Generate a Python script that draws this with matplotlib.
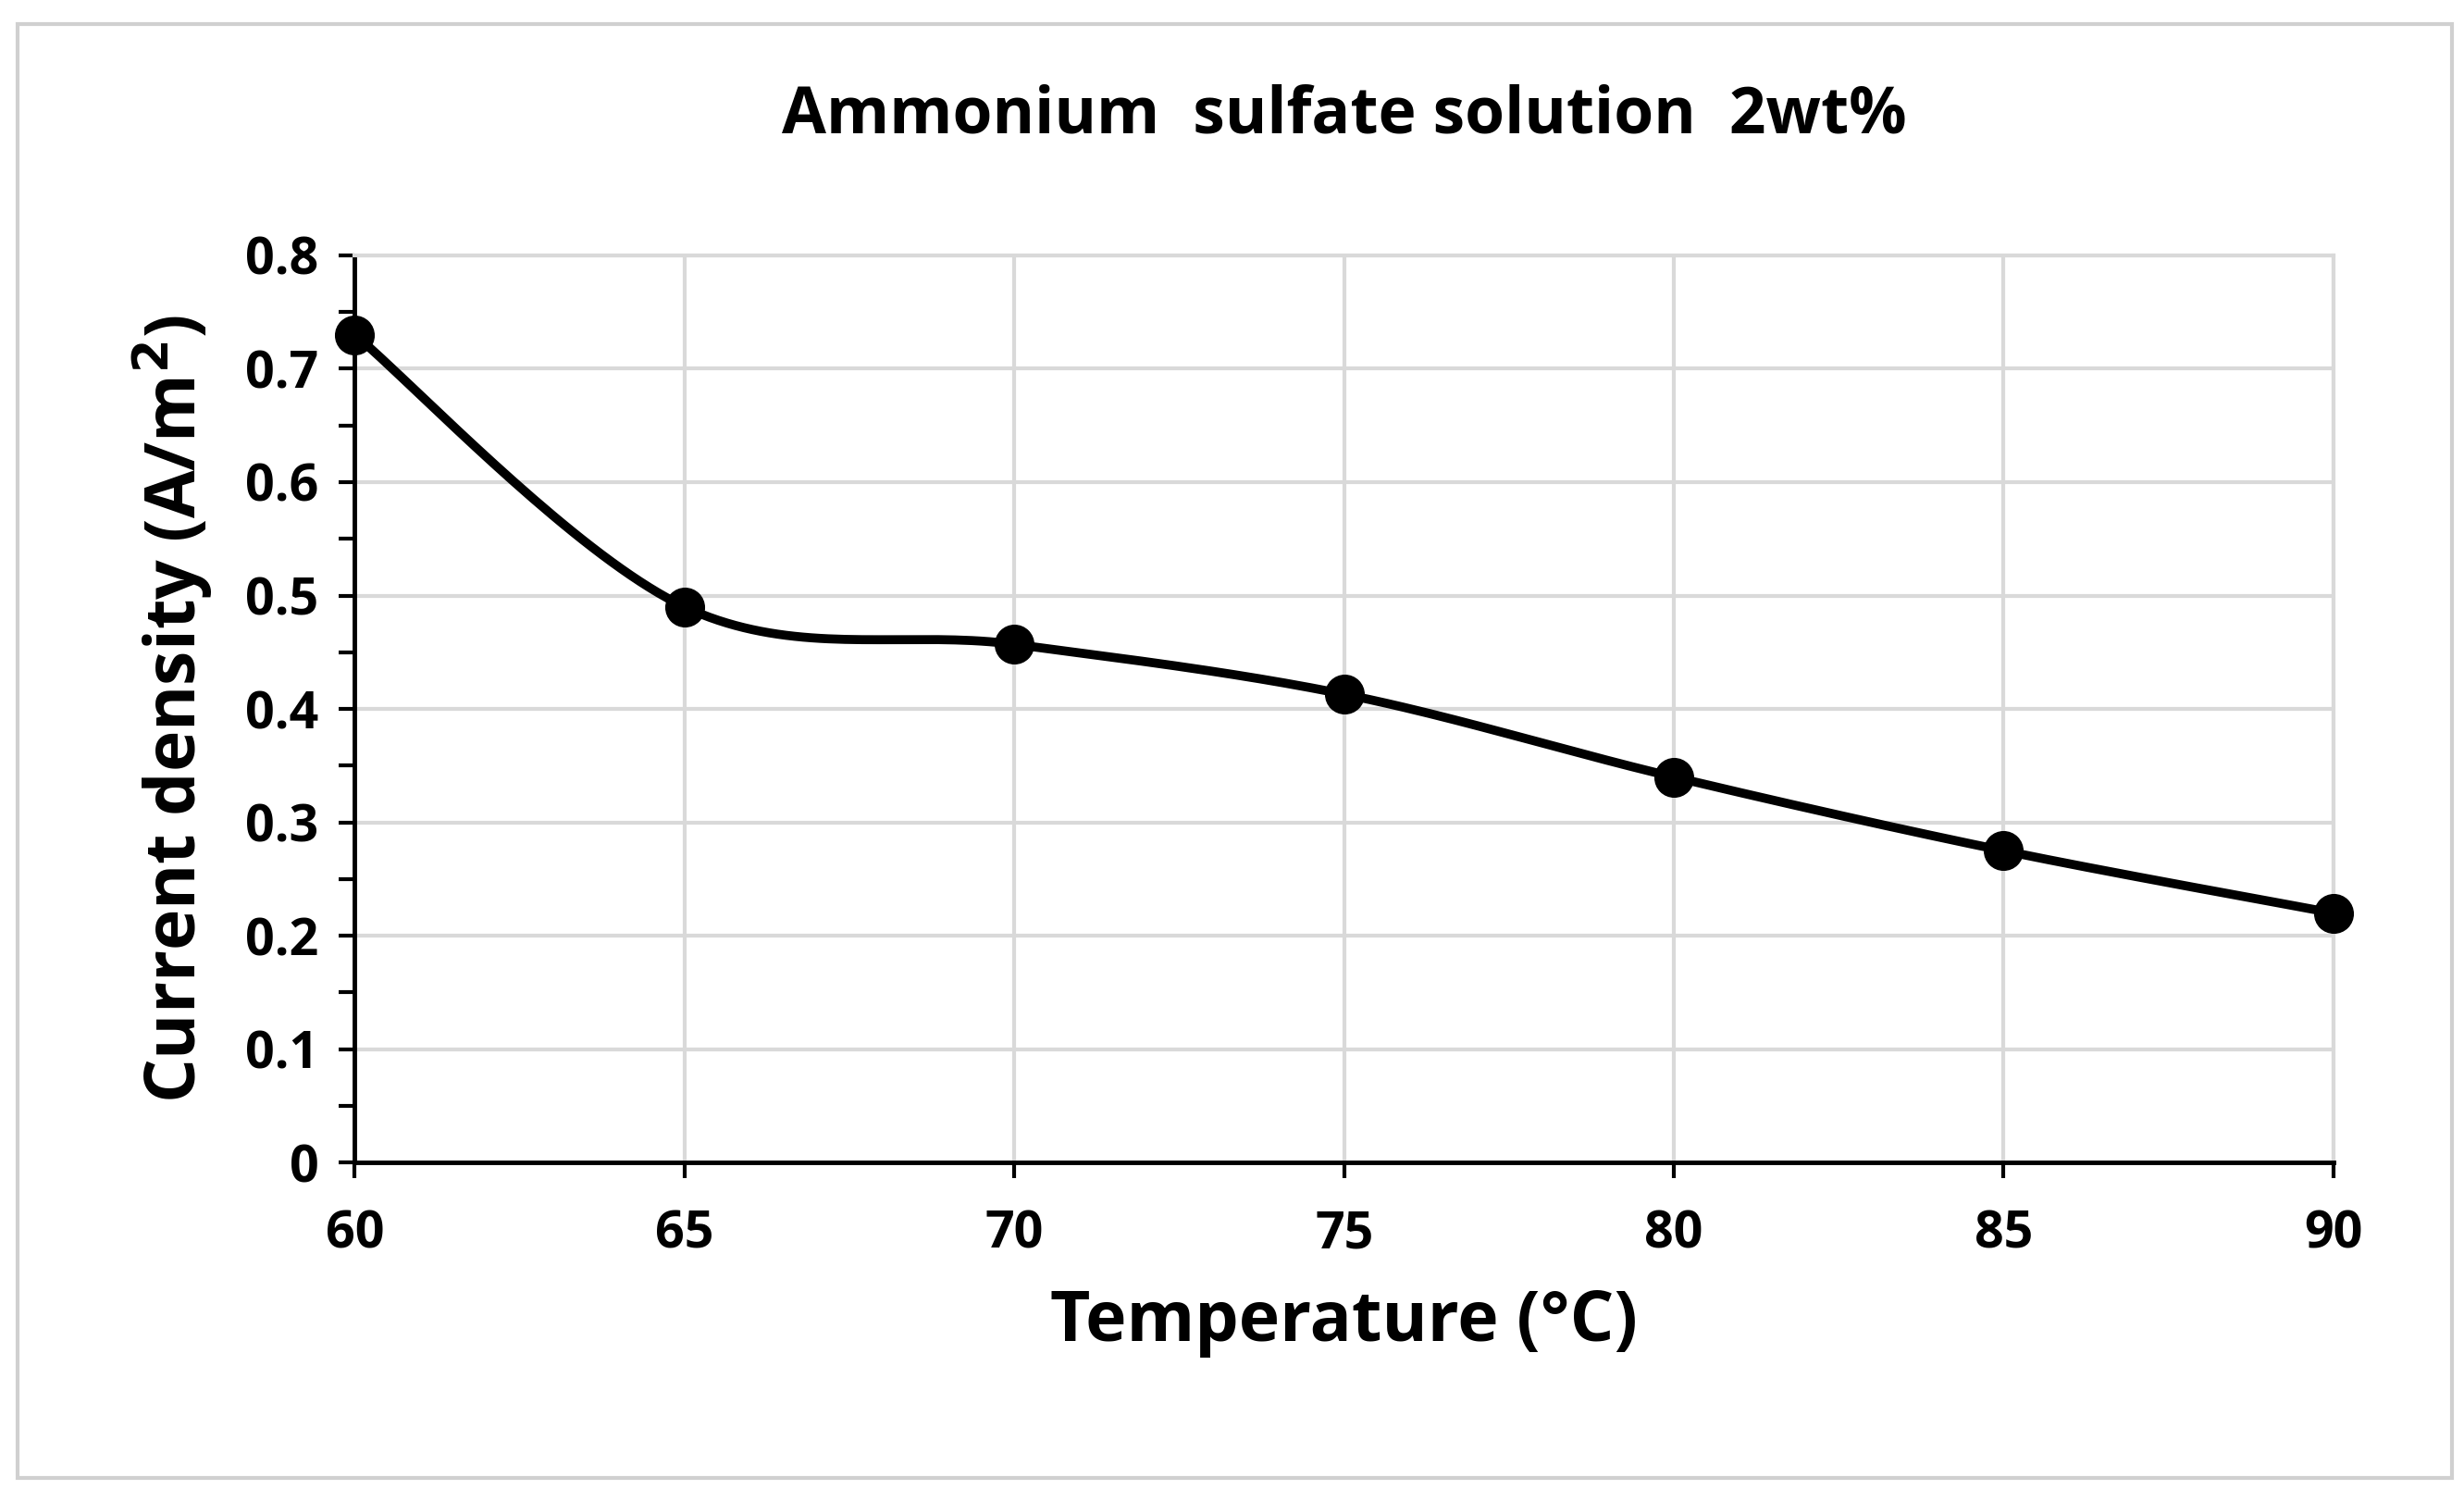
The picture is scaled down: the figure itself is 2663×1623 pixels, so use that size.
import numpy as np
import matplotlib.pyplot as plt
from matplotlib.patches import Rectangle

temperature = [60, 65, 70, 75, 80, 85, 90]
current_density = [0.73, 0.49, 0.457, 0.413, 0.34, 0.275, 0.22]

plt.rcParams['font.family'] = ['Open Sans', 'DejaVu Sans']


def smooth_curve(x, y, n=40):
    # Excel-like smooth line (Catmull-Rom as cubic Bezier)
    x = np.asarray(x, float)
    y = np.asarray(y, float)
    px = np.concatenate([[x[0]], x, [x[-1]]])
    py = np.concatenate([[y[0]], y, [y[-1]]])
    t = np.linspace(0, 1, n)[:, None]
    xs, ys = [], []
    for i in range(1, len(px) - 2):
        p0 = np.array([px[i], py[i]])
        p3 = np.array([px[i + 1], py[i + 1]])
        c1 = p0 + (np.array([px[i + 1], py[i + 1]]) - np.array([px[i - 1], py[i - 1]])) / 6
        c2 = p3 - (np.array([px[i + 2], py[i + 2]]) - np.array([px[i], py[i]])) / 6
        b = ((1 - t) ** 3) * p0 + 3 * ((1 - t) ** 2) * t * c1 + 3 * (1 - t) * t ** 2 * c2 + t ** 3 * p3
        xs.append(b[:, 0])
        ys.append(b[:, 1])
    return np.concatenate(xs), np.concatenate(ys)


fig = plt.figure(figsize=(26.63, 16.23), dpi=100)
fig.patches.append(Rectangle((0.007, 0.016), 0.988, 0.968, transform=fig.transFigure,
                             fill=False, edgecolor='#d0d0d0', linewidth=3))
ax = fig.add_axes([0.144, 0.226, 0.803, 0.604])

sx, sy = smooth_curve(temperature, current_density)
ax.plot(sx, sy, color='black', linewidth=7, zorder=3, clip_on=False)
ax.plot(temperature, current_density, 'o', color='black', markersize=30, zorder=4, clip_on=False)

ax.set_xlim(60, 90)
ax.set_ylim(0, 0.8)
ax.set_xticks(temperature)
ax.set_yticks(np.arange(0, 0.81, 0.1))
ax.set_yticklabels(['0'] + [f'{v:.1f}' for v in np.arange(0.1, 0.81, 0.1)])
ax.set_yticks(np.arange(0.05, 0.8, 0.1), minor=True)
ax.grid(True, color='#d9d9d9', linewidth=3)
ax.set_axisbelow(True)
for s in ['top', 'right']:
    ax.spines[s].set_color('#d9d9d9')
    ax.spines[s].set_linewidth(3)
for s in ['left', 'bottom']:
    ax.spines[s].set_color('black')
    ax.spines[s].set_linewidth(3.5)
ax.tick_params(axis='both', which='major', labelsize=40, width=3, length=12, direction='out')
ax.tick_params(axis='y', which='minor', width=3, length=12)
ax.tick_params(axis='x', pad=24)
ax.tick_params(axis='y', pad=16)
for lab in ax.get_xticklabels() + ax.get_yticklabels():
    lab.set_fontweight('bold')

ax.set_xlabel('Temperature (°C)', fontsize=54, fontweight='bold', labelpad=22)
ax.set_ylabel('Current density (A/m$^\\mathbf{2}$)', fontsize=54, fontweight='bold', labelpad=24)
ax.set_title('Ammonium  sulfate solution  2wt%', fontsize=50, fontweight='bold', pad=95)

fig.savefig('out.png', dpi=100)
